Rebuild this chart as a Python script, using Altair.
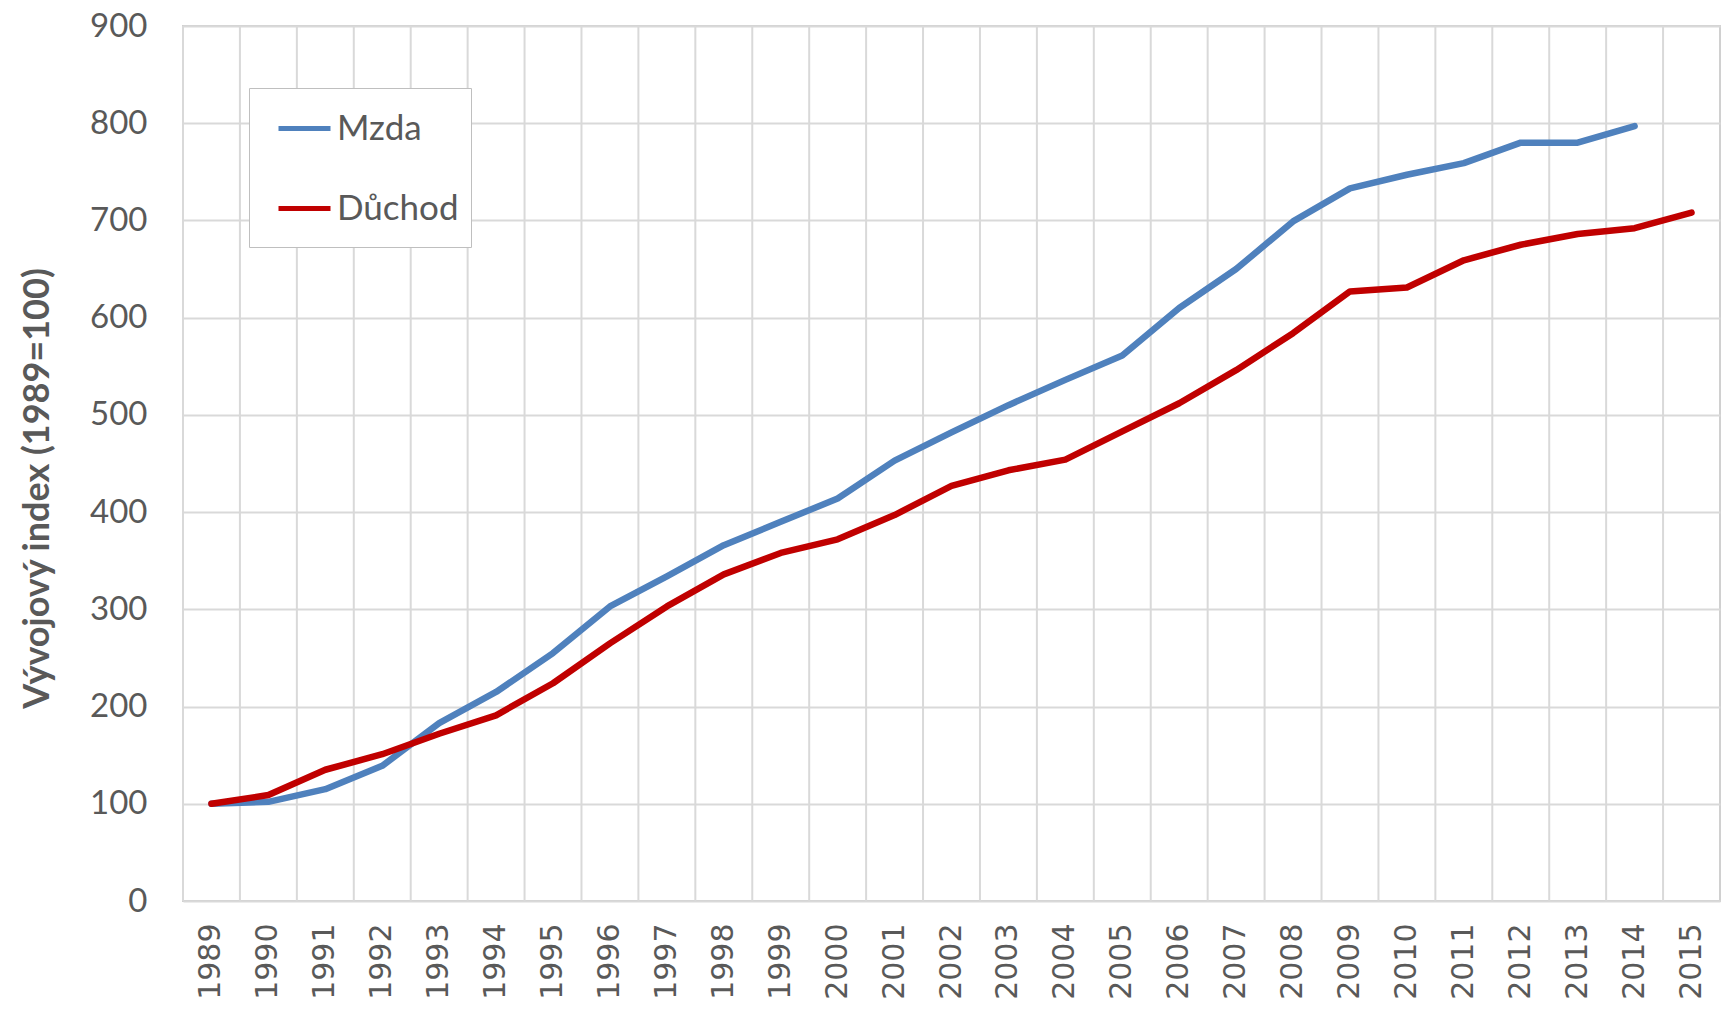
import altair as alt
import pandas as pd

years = list(range(1989, 2016))
series_names = ["Mzda", "Důchod"]
series_colors = ["#4F81BD", "#C00000"]
mzda = [100, 102, 115, 139, 183, 215, 255, 303, 334, 366, 390, 414, 453, 482,
        510, 536, 561, 610, 650, 699, 733, 747, 759, 780, 780, 797, None]
duchod = [100, 109, 135, 151, 172, 191, 224, 265, 303, 336, 358, 372, 397, 427,
          443, 454, 483, 512, 546, 584, 627, 631, 659, 675, 686, 692, 708]
y_ticks = list(range(0, 1000, 100))

rows = []
for name, vals in zip(series_names, [mzda, duchod]):
    for yr, v in zip(years, vals):
        if v is not None:
            rows.append({"year": str(yr), "series": name, "value": v})
df = pd.DataFrame(rows)
years_df = pd.DataFrame({"year": [str(y) for y in years]})

FONT = "Lato"
GREY = "#595959"
GRID = "#D9D9D9"
x_scale = alt.Scale(type="band", paddingInner=0, paddingOuter=0,
                    domain=[str(y) for y in years])
x_axis = alt.Axis(title=None, labelAngle=270, labelAlign="right", labelBaseline="middle",
                  labelPadding=22, labelFont="DejaVu Sans", labelFontSize=30, labelColor=GREY,
                  domain=False, ticks=False, grid=False)

rules = alt.Chart(years_df).mark_rule(color=GRID, strokeWidth=2).encode(
    x=alt.X("year:O", bandPosition=0, scale=x_scale, axis=x_axis)
)

lines = alt.Chart(df).mark_line(strokeWidth=6.5, strokeCap="round", strokeJoin="round").encode(
    x=alt.X("year:O", scale=x_scale, axis=x_axis),
    y=alt.Y("value:Q", scale=alt.Scale(domain=[0, 900], nice=False),
            axis=alt.Axis(values=y_ticks, title="Vývojový index (1989=100)",
                          labelFont=FONT, labelFontSize=33, labelColor=GREY, labelPadding=36,
                          domain=False, ticks=False, gridColor=GRID, gridWidth=2,
                          titleFont=FONT, titleFontSize=36, titleFontWeight="bold",
                          titleColor=GREY, titleX=-146, titleY=462, titleAlign="center",
                          titleBaseline="middle", titleAngle=270)),
    color=alt.Color("series:N",
                    scale=alt.Scale(domain=series_names, range=series_colors),
                    legend=alt.Legend(orient="none", legendX=66, legendY=62,
                                      title="\u00a0", titleOrient="bottom", titleFontSize=8,
                                      titlePadding=0,
                                      symbolType="stroke", symbolSize=2704, symbolStrokeWidth=5,
                                      symbolOffset=15,
                                      labelFont=FONT, labelFontSize=35, labelColor=GREY,
                                      padding=12, strokeColor="#BFBFBF", fillColor="white",
                                      rowPadding=33, labelOffset=4))
)

chart = alt.layer(rules, lines).properties(
    width=1537, height=875,
    autosize=alt.AutoSizeParams(type="none"),
    padding={"left": 175, "top": 18, "right": 5, "bottom": 120},
).configure_view(stroke="#D0D0D0", strokeWidth=2)

chart.save("out.html", embed_options={"renderer": "svg", "actions": False})
